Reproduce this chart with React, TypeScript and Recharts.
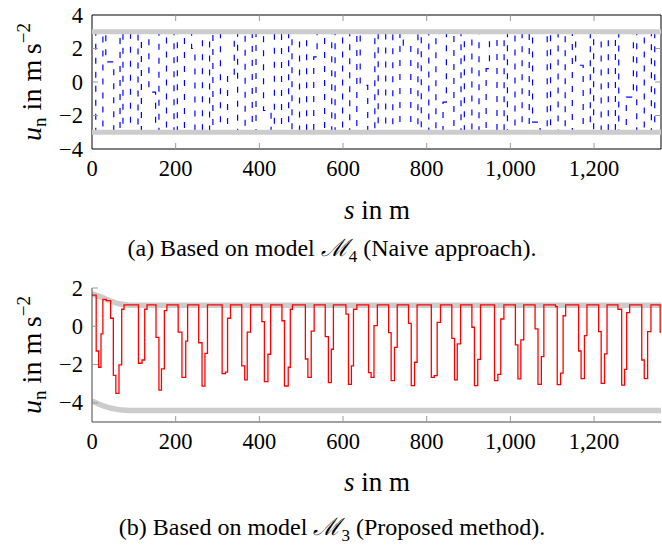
import { LineChart, Line, XAxis, YAxis, ReferenceArea } from 'recharts';

const SERIF = '"Liberation Serif", "DejaVu Serif", serif';

// tick values
const xTicks = [0, 200, 400, 600, 800, 1000, 1200];
const topYTicks = [-4, -2, 0, 2, 4];
const botYTicks = [-4, -2, 0, 2];

// (a) naive approach, blue dashed control
const blueS = [0, 9, 26, 33, 52, 67, 74, 92, 110, 118, 136, 152, 160, 178, 196, 204, 221, 238, 246, 264,
  281, 289, 307, 324, 340, 348, 366, 383, 392, 410, 428, 436, 453, 470, 478, 496, 513, 530, 538, 556,
  573, 581, 599, 616, 633, 641, 659, 676, 684, 702, 719, 736, 744, 762, 779, 787, 805, 822, 839, 847,
  865, 882, 890, 908, 925, 942, 950, 968, 985, 993, 1011, 1028, 1045, 1053, 1071, 1088, 1096, 1114, 1131, 1148,
  1156, 1174, 1191, 1199, 1217, 1234, 1251, 1259, 1277, 1294, 1302, 1320, 1337, 1345, 1360];
const blueU = [2.9, -2.9, 2.9, 1.2, -2.9, 2.9, -2.9, 2.9, -2.9, 2.9, -0.6, -2.9, 2.9, -2.9, 2.9, -2.9, 2.9, 2.0, -2.9, 2.9,
  -2.9, 2.9, -2.9, 0.4, 2.9, -2.9, 2.9, -2.9, 2.9, -1.7, -2.9, 2.9, -2.9, 2.9, -2.9, 2.9, -2.9, 1.5, 2.9, -2.9,
  2.9, -2.9, 2.9, -2.9, 2.9, -0.2, -2.9, 2.9, -2.9, 2.9, -2.9, 2.9, 2.2, -2.9, 2.9, -2.9, 2.9, -2.9, -1.2, 2.9,
  -2.9, 2.9, -2.9, 2.9, -2.9, 0.8, 2.9, -2.9, 2.9, -2.9, 2.9, -2.9, 2.9, -2.4, -2.9, 2.9, -2.9, 2.9, -2.9, 2.9,
  1.0, -2.9, 2.9, -2.9, 2.9, -2.9, 2.9, -2.9, -0.9, 2.9, -2.9, 2.9, -2.9, 2.9, 2.9];

// (b) proposed method, red step control
const redS = [0, 10, 16, 21.5, 26, 34, 44.5, 51, 57, 64.5, 71, 76.5, 111, 119.5, 126, 131.5, 153, 160, 166, 173,
  179, 206, 215, 224, 228.5, 255, 263, 270, 276, 311, 319, 324, 331, 358, 365, 371, 379, 406, 412, 420.5,
  427, 454, 460, 469, 474, 479, 510, 516, 524, 531, 557.5, 565, 572, 577, 607, 613, 620, 625, 633, 661,
  667, 674, 682, 709, 715, 723, 729.5, 756.5, 763, 771, 777, 811, 818, 825, 833, 860, 866.5, 873, 881, 908,
  914, 922, 928.6, 962, 970, 977, 984.5, 1012, 1018, 1025, 1032, 1059, 1066, 1074, 1080, 1108, 1112, 1120, 1126, 1132,
  1163, 1169, 1177, 1183, 1211, 1217, 1225, 1231, 1257, 1266, 1273, 1278, 1285, 1314, 1320, 1328, 1336, 1358, 1360];
const redU = [1.63, -1.29, -2.14, -0.4, 1.41, 1.34, 0.42, -2.56, -3.5, -2.02, 0.89, 1.12, -1.93, -1.76, 0.89, 1.12, -0.58, -3.33, -2.23, 0.82,
  1.12, -0.3, -2.67, -0.77, 1.12, -0.86, -3.13, -1.41, 1.12, -2.47, -2.39, 0.42, 1.12, -2.07, -2.8, -0.31, 1.12, 0.24, -2.89, -1.46,
  1.12, 0.29, -3.12, -2.14, 0.89, 1.12, -1.71, -2.67, -0.25, 1.12, -0.54, -2.94, -1.2, 1.12, 0.64, -3.03, -2.07, 0.89, 1.12, -2.42,
  -2.67, 0.03, 1.12, -0.33, -2.84, -1.1, 1.12, 0.15, -3.1, -1.88, 1.12, -2.67, -2.58, 0.2, 1.12, -0.63, -2.8, -0.92, 1.12, -0.05,
  -3.1, -1.73, 1.12, -2.84, -2.51, 0.38, 1.12, -0.97, -2.75, -0.71, 1.12, -0.14, -3.03, -1.59, 1.12, 1.03, -3.05, -2.45, 0.55, 1.12,
  -1.29, -2.73, -0.49, 1.12, -0.28, -2.98, -1.44, 1.12, 0.89, -3.07, -2.25, 0.71, 1.12, -1.76, -2.73, -0.28, 1.12, -0.3, -0.3];

// constraint bands
const topBandS = [0, 1360];
const topBandHi = [3, 3];
const topBandLo = [-3, -3];
const botBandS = [0, 20, 40, 60, 80, 100, 1360];
const botBandHi = [1.7, 1.55, 1.36, 1.2, 1.13, 1.1, 1.1];
const botBandLo = [-3.9, -4.1, -4.25, -4.34, -4.39, -4.4, -4.4];

const zip = (s: number[], u: number[]) => s.map((v, i) => ({ s: v, u: u[i] }));

const fmt = (v: number) => {
  const a = Math.abs(v);
  const str = a >= 1000 ? a.toLocaleString('en-US') : String(a);
  return (v < 0 ? '\u2212' : '') + str;
};

const PLOT_L = 92;
const PLOT_R = 661;
const TICK = '#9a9a9a';

const makeXTick = (top: number, bottom: number, box: boolean) => (props: any) => {
  const { x, payload } = props;
  return (
    <g>
      {payload.value !== 0 && <line x1={x} x2={x} y1={bottom} y2={bottom - 6} stroke={TICK} />}
      {box && payload.value !== 0 && <line x1={x} x2={x} y1={top} y2={top + 6} stroke={TICK} />}
      <text x={x} y={bottom + 27} textAnchor="middle" fontFamily={SERIF} fontSize={22.5} fill="#000">
        {fmt(payload.value)}
      </text>
    </g>
  );
};

const makeYTick = (box: boolean, skip: number[]) => (props: any) => {
  const { y, payload } = props;
  const show = !skip.includes(payload.value);
  return (
    <g>
      {show && <line x1={PLOT_L} x2={PLOT_L + 6} y1={y} y2={y} stroke={TICK} />}
      {box && show && <line x1={PLOT_R} x2={PLOT_R - 6} y1={y} y2={y} stroke={TICK} />}
      <text x={PLOT_L - 9} y={y + 7.5} textAnchor="end" fontFamily={SERIF} fontSize={22.5} fill="#000">
        {fmt(payload.value)}
      </text>
    </g>
  );
};

function YLabel({ cy }: { cy: number }) {
  return (
    <div style={{
      position: 'absolute', left: 32, top: cy, transform: 'translate(-50%, -50%) rotate(-90deg)',
      fontFamily: SERIF, fontSize: 28, lineHeight: '30px', whiteSpace: 'nowrap',
    }}>
      <i>u</i><sub style={{ fontSize: 19, verticalAlign: '-5px' }}>n</sub> in m&thinsp;s
      <sup style={{ fontSize: 19, verticalAlign: '11px' }}>{'\u22122'}</sup>
    </div>
  );
}

function XLabel({ cy }: { cy: number }) {
  return (
    <div style={{
      position: 'absolute', left: 277, width: 200, top: cy - 15, textAlign: 'center',
      fontFamily: SERIF, fontSize: 27, lineHeight: '30px', whiteSpace: 'nowrap',
    }}>
      <i>s</i> in m
    </div>
  );
}

function Caption({ cy, children }: { cy: number; children: any }) {
  return (
    <div style={{
      position: 'absolute', left: 0, width: 664, top: cy - 12, textAlign: 'center',
      fontFamily: SERIF, fontSize: 24, lineHeight: '24px', whiteSpace: 'nowrap',
    }}>
      {children}
    </div>
  );
}

export default function App() {
  return (
    <div style={{ position: 'fixed', left: 0, top: 0, width: 662, height: 545, background: '#fff', overflow: 'hidden' }}>
      {/* (a) naive approach */}
      <div style={{ position: 'absolute', left: 0, top: 0 }}>
        <LineChart width={662} height={230} margin={{ top: 15, right: 1, left: 0, bottom: 0 }}>
          <XAxis type="number" dataKey="s" domain={[0, 1360]} ticks={xTicks} allowDataOverflow
            height={81} axisLine={false} tickLine={false} tick={makeXTick(15, 149, true)} />
          <YAxis type="number" domain={[-4, 4]} ticks={topYTicks} allowDataOverflow
            width={92} axisLine={false} tickLine={false} tick={makeYTick(true, [4, -4])} />
          <Line data={zip(blueS, blueU)} dataKey="u" type="stepAfter" stroke="#0000ff" strokeWidth={1.2}
            strokeDasharray="6 8" dot={false} isAnimationActive={false} />
          <Line data={zip(topBandS, topBandHi)} dataKey="u" type="linear" stroke="#cccccc" strokeWidth={5}
            dot={false} isAnimationActive={false} />
          <Line data={zip(topBandS, topBandLo)} dataKey="u" type="linear" stroke="#cccccc" strokeWidth={5}
            dot={false} isAnimationActive={false} />
          <ReferenceArea x1={0} x2={1360} y1={-4} y2={4} fill="none" stroke="#000" strokeWidth={1} fillOpacity={0} />
        </LineChart>
      </div>
      <YLabel cy={82} />
      <XLabel cy={210} />
      <Caption cy={248}>(a) Based on model <i>ℳ</i><sub style={{ fontSize: 17 }}>4</sub> (Naive approach).</Caption>

      {/* (b) proposed method */}
      <div style={{ position: 'absolute', left: 0, top: 270 }}>
        <LineChart width={662} height={230} margin={{ top: 18, right: 1, left: 0, bottom: 0 }}>
          <XAxis type="number" dataKey="s" domain={[0, 1360]} ticks={xTicks} allowDataOverflow
            height={78} axisLine={{ stroke: '#444' }} tickLine={false} tick={makeXTick(18, 152, false)} />
          <YAxis type="number" domain={[-5, 2]} ticks={botYTicks} allowDataOverflow
            width={92} axisLine={{ stroke: '#444' }} tickLine={false} tick={makeYTick(false, [])} />
          <Line data={zip(botBandS, botBandHi)} dataKey="u" type="monotone" stroke="#cccccc" strokeWidth={5.5}
            dot={false} isAnimationActive={false} />
          <Line data={zip(botBandS, botBandLo)} dataKey="u" type="monotone" stroke="#cccccc" strokeWidth={5.5}
            dot={false} isAnimationActive={false} />
          <Line data={zip(redS, redU)} dataKey="u" type="stepAfter" stroke="#ff0000" strokeWidth={1.3}
            dot={false} isAnimationActive={false} />
        </LineChart>
      </div>
      <YLabel cy={355} />
      <XLabel cy={482} />
      <Caption cy={527}>(b) Based on model <i>ℳ</i><sub style={{ fontSize: 17 }}>3</sub> (Proposed method).</Caption>
    </div>
  );
}
